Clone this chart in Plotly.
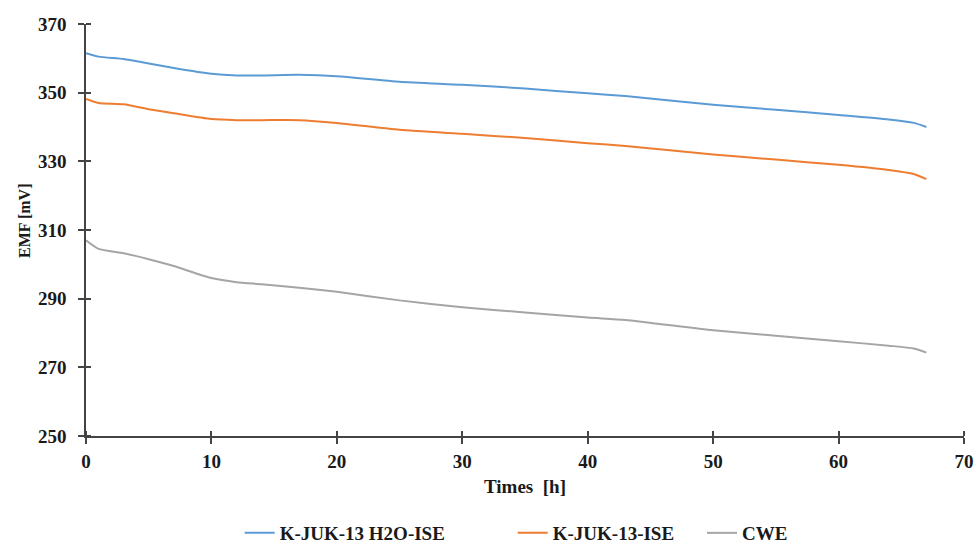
import plotly.graph_objects as go

time_h = [0, 1, 3, 5, 7, 10, 12, 14, 17, 20, 25, 30, 35, 40, 43, 50, 55, 60, 64, 66, 67]
h2o_ise = [361.5, 360.5, 359.8, 358.5, 357.2, 355.5, 355.0, 355.0, 355.2, 354.8, 353.2, 352.3,
           351.2, 349.8, 349.0, 346.5, 345.0, 343.5, 342.2, 341.2, 340.0]
ise = [348.2, 347.0, 346.6, 345.2, 344.0, 342.3, 342.0, 342.0, 342.0, 341.2, 339.2, 338.0,
       336.8, 335.3, 334.5, 332.0, 330.5, 329.0, 327.5, 326.3, 324.8]
cwe = [307.0, 304.5, 303.2, 301.5, 299.5, 296.0, 294.8, 294.2, 293.2, 292.0, 289.5, 287.5,
       286.0, 284.5, 283.8, 280.8, 279.2, 277.6, 276.3, 275.5, 274.3]

series_names = ["K-JUK-13 H2O-ISE", "K-JUK-13-ISE", "CWE"]
series_values = [h2o_ise, ise, cwe]
series_colors = ["#5B9BD5", "#ED7D31", "#A5A5A5"]
legend_ids = ["legend", "legend2", "legend3"]
legend_x = [0.175, 0.486, 0.7016]

x_ticks = [0, 10, 20, 30, 40, 50, 60, 70]
y_ticks = [250, 270, 290, 310, 330, 350, 370]

font_family = "Liberation Serif"
txt_color = "#1a1a1a"
axis_color = "#444444"
fs = 19

fig = go.Figure()
for name, vals, col, lid in zip(series_names, series_values, series_colors, legend_ids):
    fig.add_trace(go.Scatter(x=time_h, y=vals, name=name, mode="lines", legend=lid,
                             line=dict(color=col, width=2, shape="spline", smoothing=0.6)))

legend_font = dict(family=font_family, size=fs, color=txt_color, weight="bold")
layout_legends = {}
for lid, lx in zip(legend_ids, legend_x):
    layout_legends[lid] = dict(orientation="h", x=lx, xanchor="left", y=-0.2354, yanchor="middle",
                               font=legend_font, bgcolor="rgba(0,0,0,0)")

fig.update_layout(
    width=976, height=543,
    margin=dict(l=86, r=12, t=24, b=107, autoexpand=False),
    plot_bgcolor="white", paper_bgcolor="white",
    font=dict(family=font_family, size=fs, color=txt_color),
    showlegend=True,
    **layout_legends,
)
common = dict(ticks="outside", ticklen=6, tickwidth=1.5, tickcolor=axis_color,
              showline=True, linecolor=axis_color, linewidth=1.5,
              showgrid=False, zeroline=False, automargin=False,
              tickfont=dict(family=font_family, size=fs, weight="bold", color=txt_color))
fig.update_xaxes(
    range=[0, 70], tickvals=x_ticks, ticklabelstandoff=1,
    minor=dict(tickvals=x_ticks, ticks="inside", ticklen=5, tickwidth=1.5, tickcolor=axis_color),
    title=dict(text="Times  [h]", font=dict(family=font_family, size=fs, weight="bold", color=txt_color), standoff=9),
    **common,
)
fig.update_yaxes(
    range=[250, 370], tickvals=y_ticks, ticklabelstandoff=8,
    minor=dict(tickvals=y_ticks, ticks="inside", ticklen=5, tickwidth=1.5, tickcolor=axis_color),
    **common,
)
fig.add_annotation(text="EMF [mV]", xref="paper", yref="paper", x=-0.0706, y=0.5218,
                   xanchor="center", yanchor="middle", textangle=-90, showarrow=False,
                   font=dict(family=font_family, size=16, weight="bold", color=txt_color))

fig.write_html("out.html")
